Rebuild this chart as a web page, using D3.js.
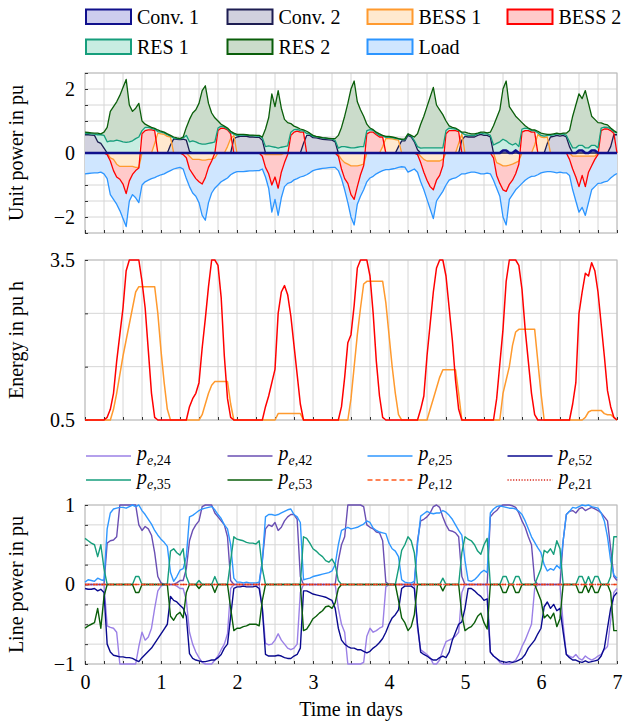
<!DOCTYPE html>
<html>
<head>
<meta charset="utf-8">
<script src="https://cdn.jsdelivr.net/npm/d3@7/dist/d3.min.js"></script>
<style>
  body { margin: 0; background: #fff; }
  svg { display: block; }
</style>
</head>
<body>
<svg id="chart" width="630" height="723"></svg>
<script>
// hourly samples over one week (index = hour since start, 169 points)

// unit power in pu (stacked, top panel); load is a demand, drawn downwards
const conv1 = [
  0,0,0,0,0,0,0,0,0,0,0,0,0,0,0,0,0,0,0,0,0,0,0,0,
  0,0,0,0,0,0,0,0,0,0,0,0,0,0,0,0,0,0,0,0,0,0,0,0,
  0,0,0,0,0,0,0,0,0,0,0,0,0,0,0,0,0,0,0,0,0,0,0,0,
  0,0,0,0,0,0,0,0,0,0,0,0,0,0,0,0,0,0,0,0,0,0,0,0,
  0,0,0,0,0,0,0,0,0,0,0,0,0,0,0,0,0,0,0,0,0,0,0,0,
  0,0,0,0,0,0,0,0,0,0,0,0,.08,.08,0,0,.08,0,0,0,0,0,0,0,
  0,0,0,0,0,0,0,0,0,0,0,0,.08,.08,0,0,.08,.08,0,0,0,0,0,0,
  0
];
const conv2 = [
  .57,.57,.56,.55,.35,.30,.15,0,0,0,0,0,0,0,0,0,0,0,0,0,0,0,0,0,
  0,0,0,.25,.44,.43,.42,.43,.40,.05,0,0,0,0,0,0,0,0,0,0,0,0,0,.45,
  .50,.52,.53,.52,.50,.50,.49,.49,.40,0,0,0,0,0,0,0,0,0,0,0,0,.30,.55,.55,
  .48,.47,.45,.43,.42,.41,.40,.35,0,0,0,0,0,0,0,0,0,0,0,0,0,0,0,0,
  0,0,0,.20,.38,.38,.55,.50,.35,.10,0,0,0,0,0,0,0,0,0,0,0,0,0,.40,
  .52,.50,.50,.50,.55,.58,.55,.55,.50,0,0,0,0,0,0,0,0,0,0,0,0,0,0,0,
  0,0,.30,.50,.52,.55,.53,.55,.50,.20,0,0,0,0,0,0,0,0,0,0,0,0,.20,.57,
  .57
];
const bess1 = [
  0,0,0,0,0,0,0,0,-.15,-.2,-.35,-.42,-.42,-.42,-.42,-.42,-.45,-.45,0,0,0,0,.3,.62,
  .6,.58,.52,.25,0,0,0,0,0,-.1,-.2,-.2,-.2,-.22,-.22,-.2,-.2,-.15,0,0,0,.2,.45,.1,
  0,0,0,0,0,0,0,0,0,-.05,-.05,-.05,-.05,-.05,-.05,0,0,0,0,0,0,0,0,0,
  0,0,0,0,0,0,0,0,-.05,-.2,-.3,-.35,-.4,-.4,-.4,-.38,-.35,0,0,0,0,0,.2,.45,
  .45,.44,.42,.2,0,0,0,0,0,0,-.1,-.2,-.25,-.25,-.25,-.25,-.25,-.2,0,0,0,0,.3,.2,
  0,0,0,0,0,0,0,0,0,0,-.3,-.35,-.4,-.4,-.38,-.35,-.3,-.25,0,0,0,0,.25,.58,
  .5,.48,.2,0,0,0,0,0,0,0,-.1,-.1,-.1,-.1,-.1,-.1,-.1,-.1,0,0,0,0,0,0,
  0
];
const bess2 = [
  0,0,0,0,0,0,0,-.05,-.1,-.35,-.4,-.4,-.55,-.85,-.45,-.25,-.1,-.02,.6,.7,.72,.72,.4,0,
  0,0,0,0,0,0,0,-.05,-.15,-.4,-.45,-.6,-.7,-.75,-.55,-.25,-.05,0,.7,.78,.77,.52,.15,0,
  0,0,0,0,0,0,0,0,-.1,-.4,-.6,-.95,-.7,-1.05,-.55,-.3,-.05,.55,.65,.68,.65,.35,0,0,
  0,0,0,0,0,0,0,0,-.05,-.3,-.5,-.6,-.9,-1.05,-.65,-.3,-.05,.6,.65,.65,.57,.5,.3,0,
  0,0,0,0,0,0,0,0,0,-.05,-.2,-.4,-.6,-.8,-.9,-.6,-.45,-.2,.6,.7,.7,.7,.37,0,
  0,0,0,0,0,0,0,0,0,-.15,-.4,-.6,-.75,-.8,-.6,-.5,-.35,-.1,.65,.7,.7,.65,.4,0,
  0,0,0,0,0,0,0,0,0,-.2,-.4,-.65,-.95,-.6,-.95,-.5,-.3,-.1,-.05,.7,.75,.75,.5,.05,
  0
];
const res1 = [
  .04,.04,.04,.04,.22,.27,.40,.35,.38,.37,.40,.38,.35,.33,.35,.38,.45,.50,.10,.10,.08,.05,.04,.05,
  .05,.05,.05,.03,.02,.02,.02,.04,.15,.30,.38,.35,.30,.28,.28,.30,.32,.35,.08,.06,.04,.03,.04,.04,
  .04,.04,.04,.04,.04,.04,.04,.04,.08,.20,.22,.20,.18,.15,.18,.20,.22,.10,.08,.06,.05,.04,.06,.04,
  .04,.04,.04,.04,.04,.04,.04,.04,.15,.20,.20,.18,.16,.16,.18,.20,.20,.10,.08,.06,.05,.05,.04,.04,
  .04,.04,.04,.04,.04,.04,.04,.04,.04,.10,.15,.16,.16,.16,.16,.16,.16,.16,.10,.08,.06,.05,.04,.03,
  .05,.05,.05,.05,.05,.05,.05,.05,.05,.25,.30,.35,.35,.30,.30,.25,.22,.20,.10,.08,.06,.05,.05,.05,
  .05,.05,.05,.05,.05,.05,.05,.05,.05,.15,.16,.16,.16,.16,.16,.16,.16,.16,.16,.08,.06,.05,.05,.05,
  .05
];
const res2 = [
  .04,.03,.03,.03,.05,.03,.10,.45,.92,1.08,1.20,1.42,1.70,1.97,1.15,.92,.95,1.05,.30,.10,.05,.03,.03,.05,
  .03,.02,.03,.02,.04,.02,.01,.03,.25,.70,.87,1.00,1.25,1.67,1.82,1.25,.93,.75,.22,.06,.03,.03,.04,.03,
  .04,.02,.01,.01,.02,.02,.02,.02,.02,.55,.88,1.65,1.27,1.80,1.22,.85,.73,.27,.11,.06,.05,.03,.07,.03,
  .03,.01,.01,.01,.01,.01,.01,.06,.40,.60,.95,1.37,1.84,2.09,1.42,1.15,.95,.20,.05,.02,.03,.05,.01,.03,
  .03,.02,.02,.01,.01,.02,.01,.01,.11,.40,.75,.99,1.29,1.59,1.89,1.34,1.19,1.04,.30,.07,.04,.03,.01,.02,
  .08,.07,.05,.05,.02,.02,.05,.03,.10,.60,.80,1.00,1.57,1.87,1.15,1.05,.85,.85,.20,.07,.02,.03,.02,.05,
  .07,.07,.03,.03,.03,.02,.02,.02,.07,.35,.99,1.34,1.61,1.46,1.79,1.39,.91,.81,.79,.16,.09,.08,.03,.03,
  .02
];
const load = [
  .65,.64,.63,.62,.62,.60,.65,.75,1.05,.90,.85,.98,1.08,1.03,.63,.63,.85,1.08,1.00,.90,.85,.80,.77,.72,
  .68,.65,.60,.55,.50,.47,.45,.45,.65,.55,.60,.55,.65,.98,1.33,1.10,1.00,.95,1.00,.90,.84,.78,.68,.62,
  .58,.58,.58,.57,.56,.56,.55,.55,.40,.30,.45,.85,.70,.85,.80,.75,.90,.92,.84,.80,.75,.72,.68,.62,
  .55,.52,.50,.48,.47,.46,.45,.45,.45,.30,.35,.60,.70,.80,.55,.67,.75,.90,.78,.73,.65,.60,.55,.52,
  .52,.50,.48,.45,.43,.44,.60,.55,.50,.55,.60,.55,.60,.70,.90,.65,.65,.80,1.00,.85,.80,.78,.72,.65,
  .65,.62,.60,.60,.62,.65,.65,.63,.65,.70,.40,.40,.85,1.05,.47,.45,.50,.70,.95,.85,.78,.73,.72,.68,
  .62,.60,.58,.58,.60,.62,.60,.62,.62,.50,.65,.75,.80,1.00,.90,.95,.75,.85,.90,.94,.90,.88,.78,.70,
  .64
];

// stored energy in pu h (middle panel)
const energy1 = [
  .5,.5,.5,.5,.5,.5,.5,.5,.5,.7,1.0,1.35,1.7,2.0,2.3,2.6,2.9,3.0,3.0,3.0,3.0,3.0,3.0,2.5,
  1.8,1.2,.7,.5,.5,.5,.5,.5,.5,.5,.5,.5,.5,.6,.8,1.0,1.15,1.22,1.22,1.22,1.22,1.22,.8,.5,
  .5,.5,.5,.5,.5,.5,.5,.5,.5,.5,.5,.5,.5,.62,.62,.62,.62,.62,.62,.62,.62,.5,.5,.5,
  .5,.5,.5,.5,.5,.5,.5,.5,.5,.5,.5,.5,.9,1.5,2.1,2.6,3.05,3.1,3.1,3.1,3.1,3.1,3.1,2.7,
  2.1,1.5,1.0,.6,.5,.5,.5,.5,.5,.5,.5,.5,.5,.7,.9,1.1,1.3,1.44,1.44,1.44,1.44,1.44,1.0,.5,
  .5,.5,.5,.5,.5,.5,.5,.5,.5,.5,.5,.5,1.0,1.25,1.5,1.9,2.15,2.2,2.2,2.2,2.2,2.2,2.2,1.6,
  1.0,.5,.5,.5,.5,.5,.5,.5,.5,.5,.5,.5,.5,.5,.55,.65,.68,.68,.68,.68,.62,.6,.6,.55,
  .5
];
const energy2 = [
  .5,.5,.5,.5,.5,.5,.5,.55,.7,1.0,1.6,2.1,2.6,3.3,3.5,3.5,3.5,3.5,3.1,2.6,1.8,1.0,.55,.5,
  .5,.5,.5,.5,.5,.5,.5,.5,.5,.75,.9,1.0,1.2,1.85,2.4,3.0,3.5,3.5,3.4,2.8,1.7,.9,.55,.5,
  .5,.5,.5,.5,.5,.5,.5,.5,.5,.75,.95,1.2,1.45,2.5,2.9,3.02,2.85,2.45,1.9,1.35,.8,.5,.5,.5,
  .5,.5,.5,.5,.5,.5,.5,.5,.5,.75,1.3,1.95,2.1,2.65,3.35,3.5,3.5,3.5,3.2,2.5,1.6,.95,.55,.5,
  .5,.5,.5,.5,.5,.5,.5,.5,.5,.5,.7,.95,1.7,2.3,2.9,3.35,3.5,3.5,3.2,2.6,2.0,1.25,.7,.5,
  .5,.5,.5,.5,.5,.5,.5,.5,.5,.5,.9,1.55,2.2,3.1,3.5,3.5,3.5,3.4,2.95,2.2,1.6,1.0,.6,.5,
  .5,.5,.5,.5,.5,.5,.5,.5,.5,.5,.8,1.2,2.5,2.9,3.25,3.2,3.45,3.3,2.9,2.3,1.7,1.05,.75,.55,
  .5
];

// line power in pu (bottom panel)
const p24 = [
  0,0,0,0,0,0,0,-.52,-.54,-.55,-.6,-1,-1,-1,-1,-1,-1,-.78,-.6,-.7,-.66,-.55,-.3,-.08,
  -.02,0,0,0,0,-.02,-.05,-.05,-.2,-.6,-.75,-.85,-.92,-.98,-1,-1,-1,-.95,-.9,-.82,-.75,-.62,-.05,0,
  0,0,0,0,0,0,0,0,-.3,-.74,-.76,-.75,-.7,-.62,-.7,-.75,-.8,-.82,-.8,-.75,-.1,0,0,0,
  0,0,0,0,0,0,0,0,-.3,-.5,-.6,-1,-1,-1,-1,-1,-.98,-.65,-.55,-.6,-.58,-.55,-.53,-.03,
  0,0,0,0,0,0,0,0,0,-.55,-.82,-.85,-.88,-.92,-1,-1,-.95,-.82,-.72,-.7,-.68,-.65,-.6,-.1,
  0,0,0,0,0,0,0,0,-.85,-.9,-.93,-.98,-1,-1,-1,-.98,-.95,-.88,-.78,-.7,-.6,-.5,-.05,0,
  0,0,0,0,0,0,0,-.5,-.88,-.9,-.92,-.88,-.93,-.95,-.9,-.93,-.95,-.93,-.9,-.88,-.82,-.78,-.45,-.1,
  -.05
];
const p42 = [
  0,0,0,0,0,0,0,.52,.55,.56,.6,1,1,1,1,1,1,.75,.68,.73,.7,.62,.4,.1,
  .02,0,0,0,0,.02,.05,.05,.2,.55,.68,.75,.8,.98,1,1,1,.9,.85,.8,.75,.6,.05,0,
  0,0,0,0,0,0,0,0,.3,.7,.75,.73,.78,.68,.72,.8,.85,.88,.88,.82,.1,0,0,0,
  0,0,0,0,0,0,0,0,.3,.5,.6,1,1,1,1,1,.98,.75,.72,.7,.66,.65,.55,.03,
  0,0,0,0,0,0,0,0,0,.55,.8,.82,.85,.9,.98,1,.97,.85,.75,.68,.67,.65,.6,.1,
  0,0,0,0,0,0,0,0,.85,.9,.93,.98,1,1,1,.99,.97,.9,.8,.72,.6,.5,.05,0,
  0,0,0,0,0,0,0,.55,.88,.92,.93,.9,.95,.97,.93,.95,.97,.95,.93,.9,.85,.8,.45,.1,
  .05
];
const p25 = [
  .03,.06,.05,.04,.08,.06,.05,.7,.9,.95,.96,.97,.97,.96,.98,1,.98,1,.93,.88,.82,.76,.68,.62,
  .57,.53,.48,.15,.04,.1,.18,.2,.35,.85,.87,.9,.93,.95,.96,.97,.98,.94,.88,.83,.75,.7,.5,.08,
  .03,.03,.02,.03,.02,.02,.02,.03,.3,.85,.88,.88,.87,.88,.9,.92,.94,.95,.88,.85,.78,.06,.07,.08,
  .1,.11,.12,.13,.14,.15,.17,.25,.5,.68,.7,.72,.7,.71,.72,.74,.76,.8,.78,.71,.68,.66,.65,.64,
  .52,.45,.42,.35,.06,.03,.02,.02,.04,.5,.86,.89,.92,.9,.89,.9,.9,.93,.91,.87,.82,.75,.68,.62,
  .3,.05,.04,.06,.1,.15,.18,.15,.9,.95,.98,.99,.98,.97,.96,.96,.95,.92,.88,.8,.7,.6,.53,.46,
  .4,.25,.17,.2,.18,.24,.2,.55,.88,.92,.97,.96,.98,1,.99,1,.98,.97,.96,.9,.8,.6,.3,.12,
  .08
];
const p52 = [
  -.05,-.06,-.06,-.05,-.08,-.06,-.1,-.75,-.85,-.89,-.9,-.91,-.91,-.92,-.92,-.93,-.95,-.97,-.92,-.88,-.84,-.8,-.74,-.68,
  -.62,-.56,-.5,-.15,-.2,-.22,-.26,-.3,-.4,-.87,-.93,-.95,-.96,-.97,-.97,-.96,-.95,-.95,-.92,-.88,-.8,-.75,-.4,-.05,
  -.03,-.03,-.02,-.03,-.03,-.03,-.02,-.05,-.3,-.88,-.9,-.9,-.9,-.89,-.9,-.92,-.93,-.93,-.9,-.88,-.8,-.08,-.08,-.1,
  -.12,-.13,-.14,-.15,-.16,-.18,-.2,-.3,-.55,-.7,-.75,-.78,-.8,-.8,-.82,-.82,-.84,-.86,-.84,-.8,-.77,-.73,-.68,-.6,
  -.5,-.42,-.38,-.32,-.05,-.02,-.02,-.02,-.05,-.5,-.85,-.88,-.9,-.93,-.95,-.95,-.92,-.9,-.92,-.85,-.7,-.6,-.5,-.47,
  -.3,-.05,-.05,-.08,-.12,-.15,-.2,-.18,-.85,-.9,-.93,-.96,-.97,-.98,-.97,-.98,-.97,-.95,-.93,-.88,-.8,-.75,-.7,-.62,
  -.55,-.28,-.22,-.3,-.25,-.33,-.3,-.6,-.88,-.92,-.95,-.95,-.97,-.98,-.96,-.98,-.97,-.96,-.95,-.9,-.8,-.55,-.3,-.15,
  -.1
];
const p35 = [
  .58,.55,.52,.5,.35,.5,.2,0,0,0,0,0,0,0,0,0,.1,.1,0,0,0,0,0,0,
  0,0,0,.42,.45,.4,.37,.45,.1,0,0,0,.05,0,0,0,0,.1,0,0,0,0,.3,.6,
  .57,.56,.55,.53,.52,.52,.51,.55,.2,0,0,0,0,0,0,0,0,0,0,0,0,.6,.58,.52,
  .45,.42,.38,.35,.3,.28,.32,.25,.05,0,0,0,0,0,0,0,0,0,0,0,0,0,0,0,
  0,0,0,.2,.43,.5,.6,.55,.4,0,0,0,0,0,0,0,0,.08,0,0,0,0,0,.4,
  .6,.57,.55,.5,.42,.38,.5,.58,0,0,0,0,.1,.1,0,0,.1,.1,0,0,0,0,0,.1,
  .2,.43,.4,.45,.38,.55,.45,0,0,0,0,0,.1,.1,0,.1,0,.1,.1,0,0,0,.1,.6,
  .6
];
const p53 = [
  -.55,-.52,-.5,-.48,-.3,-.55,-.15,0,0,0,0,0,0,0,0,0,-.1,-.1,0,0,0,0,0,0,
  0,0,0,-.4,-.45,-.38,-.35,-.42,-.1,0,0,0,-.05,0,0,0,0,-.1,0,0,0,0,-.3,-.58,
  -.55,-.55,-.53,-.52,-.5,-.5,-.5,-.52,-.2,0,0,0,0,0,0,0,0,0,0,0,0,-.58,-.56,-.5,
  -.43,-.4,-.36,-.33,-.28,-.27,-.3,-.23,-.05,0,0,0,0,0,0,0,0,0,0,0,0,0,0,0,
  0,0,0,-.2,-.42,-.48,-.58,-.53,-.38,0,0,0,0,0,0,0,0,-.08,0,0,0,0,0,-.38,
  -.58,-.55,-.53,-.48,-.4,-.36,-.48,-.56,0,0,0,0,-.1,-.1,0,0,-.1,-.1,0,0,0,0,0,-.1,
  -.2,-.42,-.38,-.43,-.36,-.53,-.43,0,0,0,0,0,-.1,-.1,0,-.1,0,-.1,-.1,0,0,0,-.1,-.58,
  -.58
];
const p12 = [
  0,0,0,0,0,0,0,0,0,0,0,0,0,0,0,0,0,0,0,0,0,0,0,0,
  0,0,0,0,0,0,0,0,0,0,0,0,0,0,0,0,0,0,0,0,0,0,0,0,
  0,0,0,0,0,0,0,0,0,0,0,0,0,0,0,0,0,0,0,0,0,0,0,0,
  0,0,0,0,0,0,0,0,0,0,0,0,0,0,0,0,0,0,0,0,0,0,0,0,
  0,0,0,0,0,0,0,0,0,0,0,0,0,0,0,0,0,0,0,0,0,0,0,0,
  0,0,0,0,0,0,0,0,0,0,0,0,0,0,0,0,0,0,0,0,0,0,0,0,
  0,0,0,0,0,0,0,0,0,0,0,0,0,0,0,0,0,0,0,0,0,0,0,0,
  0
];
const p21 = [
  0,0,0,0,0,0,0,0,0,0,0,0,0,0,0,0,0,0,0,0,0,0,0,0,
  0,0,0,0,0,0,0,0,0,0,0,0,0,0,0,0,0,0,0,0,0,0,0,0,
  0,0,0,0,0,0,0,0,0,0,0,0,0,0,0,0,0,0,0,0,0,0,0,0,
  0,0,0,0,0,0,0,0,0,0,0,0,0,0,0,0,0,0,0,0,0,0,0,0,
  0,0,0,0,0,0,0,0,0,0,0,0,0,0,0,0,0,0,0,0,0,0,0,0,
  0,0,0,0,0,0,0,0,0,0,0,0,0,0,0,0,0,0,0,0,0,0,0,0,
  0,0,0,0,0,0,0,0,0,0,0,0,0,0,0,0,0,0,0,0,0,0,0,0,
  0
];

const dayTicks = [0, 1, 2, 3, 4, 5, 6, 7];

const serif = '"Liberation Serif", "Times New Roman", serif';
const svg = d3.select("#chart").attr("font-family", serif);

const x = d3.scaleLinear().domain([0, 7]).range([85, 617]);
const hx = (i) => x(i / 24);

const yUnit = d3.scaleLinear().domain([-2.5, 2.5]).range([233, 73]);
const yEnergy = d3.scaleLinear().domain([0.5, 3.5]).range([420, 260]);
const yLine = d3.scaleLinear().domain([-1, 1]).range([664, 505]);

const quarterDays = d3.range(29).map((k) => k / 4);

function frame(y, gridValues, labelValues, fmt, title, clipId) {
  const [bottom, top] = y.range();
  const g = svg.append("g");

  g.append("g").selectAll("line").data(quarterDays).join("line")
    .attr("x1", (d) => x(d)).attr("x2", (d) => x(d))
    .attr("y1", top).attr("y2", bottom)
    .attr("stroke", "#d6d6d6");
  g.append("g").selectAll("line").data(gridValues).join("line")
    .attr("x1", 85).attr("x2", 617)
    .attr("y1", (d) => y(d)).attr("y2", (d) => y(d))
    .attr("stroke", "#d6d6d6");
  g.append("rect")
    .attr("x", 85).attr("y", top).attr("width", 532).attr("height", bottom - top)
    .attr("fill", "none").attr("stroke", "#bcbcbc");

  // small inward ticks
  g.append("g").attr("transform", "translate(85,0)").attr("color", "#333")
    .call(d3.axisLeft(y).tickValues(gridValues).tickSize(-3).tickFormat(""))
    .call((a) => a.select(".domain").remove());
  g.append("g").attr("transform", `translate(0,${bottom})`).attr("color", "#333")
    .call(d3.axisBottom(x).tickValues(quarterDays).tickSize(-3).tickFormat(""))
    .call((a) => a.select(".domain").remove());

  const labels = g.append("g").attr("transform", "translate(85,0)")
    .call(d3.axisLeft(y).tickValues(labelValues).tickSize(0).tickPadding(10).tickFormat(fmt));
  labels.select(".domain").remove();
  labels.attr("font-size", 20).attr("font-family", serif);

  svg.append("clipPath").attr("id", clipId).append("rect")
    .attr("x", 84).attr("y", top - 1.5).attr("width", 534).attr("height", bottom - top + 3);

  svg.append("text")
    .attr("transform", `translate(23,${(top + bottom) / 2}) rotate(-90)`)
    .attr("text-anchor", "middle")
    .attr("font-size", 20)
    .text(title);
}

// ---------- top panel: unit power ----------
frame(yUnit, d3.range(11).map((k) => -2.5 + k * 0.5), [-2, 0, 2], d3.format("d"),
  "Unit power in pu", "clipUnit");

const unitKeys = ["conv1", "conv2", "bess1", "bess2", "res1", "res2", "load"];
const unitStyle = {
  conv1: { stroke: "#10108c", fill: "#cdcdee" },
  conv2: { stroke: "#1d1d52", fill: "#d1d1de" },
  bess1: { stroke: "#ff9a2e", fill: "#ffe9cf" },
  bess2: { stroke: "#ff0000", fill: "#ffcaca" },
  res1: { stroke: "#169e7c", fill: "#c8ede2" },
  res2: { stroke: "#0a5e0a", fill: "#cbdccb" },
  load: { stroke: "#2c95ff", fill: "#cfe6ff" },
};
const unitTable = conv1.map((v, i) => ({
  conv1: conv1[i], conv2: conv2[i], bess1: bess1[i], bess2: bess2[i],
  res1: res1[i], res2: res2[i], load: -load[i],
}));
const stacked = d3.stack().keys(unitKeys).offset(d3.stackOffsetDiverging)(unitTable);

const unitG = svg.append("g").attr("clip-path", "url(#clipUnit)");
const area = d3.area()
  .x((d, i) => hx(i))
  .y0((d) => yUnit(d[0]))
  .y1((d) => yUnit(d[1]));
unitG.selectAll("path.area").data(stacked).join("path")
  .attr("class", "area")
  .attr("d", area)
  .attr("fill", (s) => unitStyle[s.key].fill);

const edge = (key) => d3.line()
  .x((d, i) => hx(i))
  .y((d) => yUnit(d.data[key] < 0 ? d[0] : d[1]));
const lineOrder = stacked.filter((s) => s.key !== "conv1").concat(stacked.filter((s) => s.key === "conv1"));
unitG.selectAll("path.edge").data(lineOrder).join("path")
  .attr("class", "edge")
  .attr("d", (s) => edge(s.key)(s))
  .attr("fill", "none")
  .attr("stroke", (s) => unitStyle[s.key].stroke)
  .attr("stroke-width", (s) => (s.key === "conv1" ? 2.6 : 1.3))
  .attr("stroke-linejoin", "round");

// ---------- middle panel: energy ----------
frame(yEnergy, [0.5, 1.5, 2.5, 3.5], [0.5, 3.5], d3.format(".1f"), "Energy in pu h", "clipEnergy");

const energyG = svg.append("g").attr("clip-path", "url(#clipEnergy)");
const energyLine = d3.line().x((d, i) => hx(i)).y((d) => yEnergy(d));
[[energy1, "#ff9a2e"], [energy2, "#ff0000"]].forEach(([series, color]) => {
  energyG.append("path")
    .attr("d", energyLine(series))
    .attr("fill", "none")
    .attr("stroke", color)
    .attr("stroke-width", 1.5)
    .attr("stroke-linejoin", "round");
});

// ---------- bottom panel: line power ----------
frame(yLine, d3.range(9).map((k) => -1 + k * 0.25), [-1, 0, 1], d3.format("d"),
  "Line power in pu", "clipLine");

const lineSeries = [
  { sub: "24", values: p24, color: "#9b80e6", dash: null },
  { sub: "42", values: p42, color: "#6a4fb3", dash: null },
  { sub: "25", values: p25, color: "#2f97ff", dash: null },
  { sub: "52", values: p52, color: "#0a0a8f", dash: null },
  { sub: "35", values: p35, color: "#169e7c", dash: null },
  { sub: "53", values: p53, color: "#0a5e0a", dash: null },
  { sub: "12", values: p12, color: "#ff5a1e", dash: "5,3" },
  { sub: "21", values: p21, color: "#d8261a", dash: "1.2,1.6" },
];
const lineG = svg.append("g").attr("clip-path", "url(#clipLine)");
const powerLine = d3.line().x((d, i) => hx(i)).y((d) => yLine(d));
lineG.selectAll("path").data(lineSeries).join("path")
  .attr("d", (s) => powerLine(s.values))
  .attr("fill", "none")
  .attr("stroke", (s) => s.color)
  .attr("stroke-width", 1.4)
  .attr("stroke-dasharray", (s) => s.dash)
  .attr("stroke-linejoin", "round");

// x axis labels under the last panel
const xLabels = svg.append("g").attr("transform", "translate(0,664)")
  .call(d3.axisBottom(x).tickValues(dayTicks).tickSize(0).tickPadding(10.5).tickFormat(d3.format("d")));
xLabels.select(".domain").remove();
xLabels.attr("font-size", 20).attr("font-family", serif);

svg.append("text")
  .attr("x", 351).attr("y", 716)
  .attr("text-anchor", "middle")
  .attr("font-size", 20)
  .text("Time in days");

// ---------- legends ----------
const legendCols = [85, 226.5, 366.5, 506.5];

const unitLegend = [
  ["Conv. 1", "conv1"], ["Conv. 2", "conv2"], ["BESS 1", "bess1"], ["BESS 2", "bess2"],
  ["RES 1", "res1"], ["RES 2", "res2"], ["Load", "load"],
];
const topLegend = svg.append("g");
unitLegend.forEach(([label, key], i) => {
  const lx = legendCols[i % 4];
  const ly = i < 4 ? 9.5 : 39.5;
  topLegend.append("rect")
    .attr("x", lx + 1).attr("y", ly).attr("width", 45).attr("height", 14.5)
    .attr("fill", unitStyle[key].fill)
    .attr("stroke", unitStyle[key].stroke)
    .attr("stroke-width", 2);
  topLegend.append("text")
    .attr("x", lx + 52).attr("y", ly + 14)
    .attr("font-size", 20)
    .text(label);
});

const lowLegend = svg.append("g");
lineSeries.forEach((s, i) => {
  const lx = legendCols[i % 4];
  const ly = i < 4 ? 456 : 480;
  lowLegend.append("line")
    .attr("x1", lx + 1).attr("x2", lx + 46).attr("y1", ly).attr("y2", ly)
    .attr("stroke", s.color)
    .attr("stroke-width", 1.6)
    .attr("stroke-dasharray", s.dash);
  const t = lowLegend.append("text")
    .attr("x", lx + 52).attr("y", ly + 4)
    .attr("font-size", 20);
  t.append("tspan").attr("font-style", "italic").text("p");
  t.append("tspan").attr("font-size", 14).attr("dy", 5).attr("font-style", "italic").text("e");
  t.append("tspan").attr("font-size", 14).text("," + s.sub);
});
</script>
</body>
</html>
